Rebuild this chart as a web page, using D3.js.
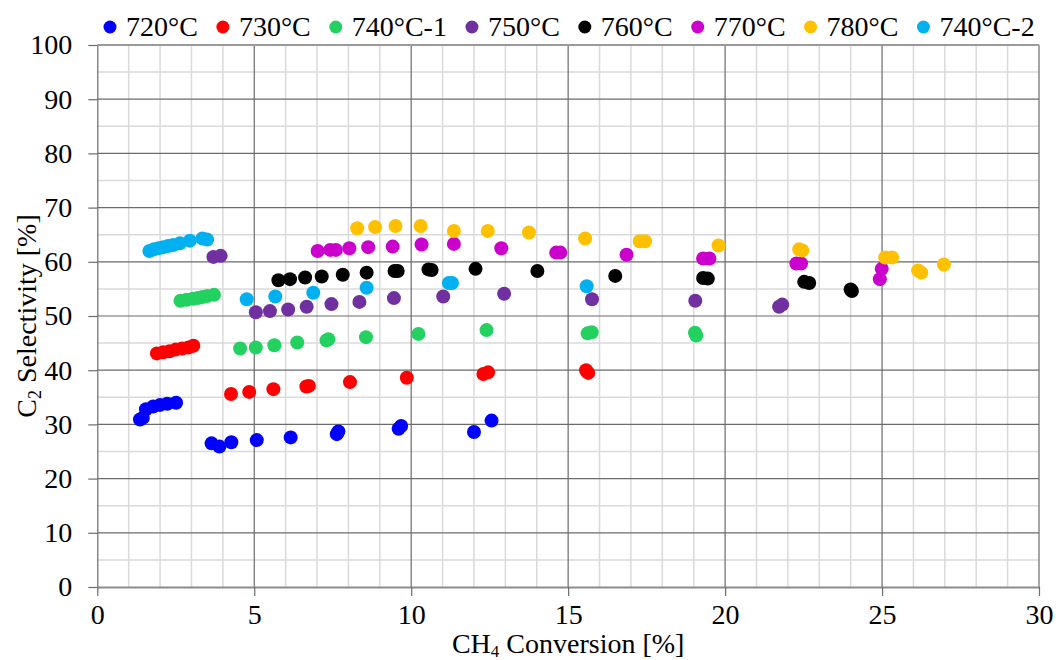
<!DOCTYPE html>
<html>
<head>
<meta charset="utf-8">
<script src="https://cdn.jsdelivr.net/npm/d3@7"></script>
<style>
    body { margin: 0; background: #fff; }
    text { font-family: "Liberation Serif", "Times New Roman", serif; fill: #000; }
</style>
</head>
<body>
<div class="chart"></div>
<script>
// series names + colours, legend order
let seriesNames = ["720°C", "730°C", "740°C-1", "750°C", "760°C", "770°C", "780°C", "740°C-2"]
let seriesColors = ["#0000ff", "#ff0000", "#22d160", "#7030a0", "#000000", "#cc00cc", "#ffc000", "#00b0f0"]

// CH4 conversion (x) and C2 selectivity (y) per series
let x720 = [1.36, 1.45, 1.55, 1.78, 2.0, 2.23, 2.51, 3.64, 3.89, 4.27, 5.08, 6.16, 7.63, 7.68, 9.6, 9.68, 12.0, 12.56]
let y720 = [30.9, 31.2, 32.8, 33.3, 33.6, 33.8, 34.0, 26.5, 25.9, 26.7, 27.1, 27.6, 28.2, 28.7, 29.2, 29.7, 28.6, 30.7]

let x730 = [1.9, 2.1, 2.3, 2.5, 2.7, 2.9, 3.06, 4.26, 4.84, 5.61, 6.66, 6.74, 8.05, 9.86, 12.3, 12.45, 15.57, 15.64]
let y730 = [43.1, 43.3, 43.5, 43.8, 44.0, 44.2, 44.5, 35.6, 36.0, 36.5, 37.0, 37.1, 37.8, 38.6, 39.3, 39.6, 40.0, 39.5]

let x740a = [2.65, 2.85, 3.05, 3.2, 3.35, 3.5, 3.72, 4.55, 5.05, 5.64, 6.37, 7.3, 7.36, 8.56, 10.23, 12.4, 15.62, 15.75, 19.04, 19.08]
let y740a = [52.8, 53.0, 53.2, 53.3, 53.5, 53.7, 53.9, 44.0, 44.2, 44.6, 45.1, 45.5, 45.7, 46.1, 46.7, 47.4, 46.8, 47.0, 46.9, 46.4]

let x750 = [3.7, 3.93, 5.05, 5.5, 6.08, 6.67, 7.46, 8.35, 9.45, 11.02, 12.96, 15.76, 19.05, 21.72, 21.82]
let y750 = [60.9, 61.1, 50.7, 50.9, 51.2, 51.7, 52.2, 52.6, 53.3, 53.6, 54.1, 53.1, 52.8, 51.7, 52.1]

let x760 = [5.77, 6.14, 6.62, 7.15, 7.82, 8.58, 9.47, 9.57, 10.55, 10.65, 12.05, 14.02, 16.5, 19.3, 19.45, 22.52, 22.68, 24.0, 24.04]
let y760 = [56.6, 56.8, 57.1, 57.3, 57.6, 58.0, 58.3, 58.3, 58.6, 58.5, 58.7, 58.3, 57.4, 57.0, 56.9, 56.3, 56.1, 54.9, 54.6]

let x770 = [7.02, 7.42, 7.6, 8.03, 8.63, 9.41, 10.33, 11.36, 12.87, 14.62, 14.75, 16.86, 19.3, 19.5, 22.27, 22.42, 24.99, 24.93]
let y770 = [62.0, 62.2, 62.2, 62.5, 62.7, 62.8, 63.2, 63.3, 62.5, 61.7, 61.7, 61.3, 60.6, 60.6, 59.7, 59.7, 58.7, 56.8]

let x780 = [8.28, 8.85, 9.5, 10.3, 11.36, 12.44, 13.75, 15.54, 17.28, 17.45, 19.79, 22.36, 22.46, 25.1, 25.32, 26.15, 26.25, 26.97]
let y780 = [66.2, 66.4, 66.6, 66.6, 65.7, 65.7, 65.4, 64.3, 63.8, 63.8, 63.0, 62.3, 62.1, 60.8, 60.8, 58.4, 58.0, 59.5]

let x740b = [1.66, 1.8, 1.95, 2.1, 2.25, 2.42, 2.63, 2.95, 3.35, 3.5, 4.76, 5.67, 6.88, 8.58, 11.2, 11.3, 15.59]
let y740b = [62.0, 62.3, 62.5, 62.7, 62.9, 63.1, 63.4, 63.9, 64.3, 64.1, 53.1, 53.6, 54.3, 55.2, 56.1, 56.1, 55.5]

let xTicks = [0, 5, 10, 15, 20, 25, 30]
let yTicks = [0, 10, 20, 30, 40, 50, 60, 70, 80, 90, 100]

let xs = [x720, x730, x740a, x750, x760, x770, x780, x740b]
let ys = [y720, y730, y740a, y750, y760, y770, y780, y740b]

const drawScatter = () => {
    let width = 1059
    let height = 660
    let left = 97.3, right = 1039, top = 45, bottom = 587

    let svg = d3.select(".chart")
        .append("svg")
        .attr("width", width)
        .attr("height", height)

    let x = d3.scaleLinear().domain([0, 30]).range([left, right])
    let y = d3.scaleLinear().domain([0, 100]).range([bottom, top])

    // minor grid
    svg.append("g")
        .selectAll("line")
        .data(d3.range(1, 30).filter(d => d % 5 !== 0))
        .enter()
        .append("line")
        .attr("x1", d => x(d)).attr("x2", d => x(d))
        .attr("y1", top).attr("y2", bottom)
        .attr("stroke", "#dadada")
        .attr("stroke-width", 1.5)
    svg.append("g")
        .selectAll("line")
        .data(d3.range(5, 100, 10))
        .enter()
        .append("line")
        .attr("x1", left).attr("x2", right)
        .attr("y1", d => y(d)).attr("y2", d => y(d))
        .attr("stroke", "#dadada")
        .attr("stroke-width", 1.5)

    // major grid
    svg.append("g")
        .selectAll("line")
        .data(xTicks.slice(1))
        .enter()
        .append("line")
        .attr("x1", d => x(d)).attr("x2", d => x(d))
        .attr("y1", top).attr("y2", bottom)
        .attr("stroke", "#6b6b6b")
        .attr("stroke-width", 1.2)
    svg.append("g")
        .selectAll("line")
        .data(yTicks.slice(1))
        .enter()
        .append("line")
        .attr("x1", left).attr("x2", right)
        .attr("y1", d => y(d)).attr("y2", d => y(d))
        .attr("stroke", d => d === 100 ? "#9a9a9a" : "#6b6b6b")
        .attr("stroke-width", d => d === 100 ? 2 : 1.2)

    // axes
    let xAxis = svg.append("g")
        .attr("transform", "translate(0," + bottom + ")")
        .call(d3.axisBottom(x).tickValues(xTicks).tickSize(9).tickPadding(8).tickSizeOuter(0))
    let yAxis = svg.append("g")
        .attr("transform", "translate(" + left + ",0)")
        .call(d3.axisLeft(y).tickValues(yTicks).tickSize(9).tickPadding(16).tickSizeOuter(0))

    xAxis.select(".domain").attr("stroke", "#8c8c8c").attr("stroke-width", 2)
    yAxis.select(".domain").attr("stroke", "#6b6b6b").attr("stroke-width", 1.2)
    svg.selectAll(".tick line").attr("stroke", "#6b6b6b").attr("stroke-width", 1.2)
    svg.selectAll(".tick text")
        .style("font-family", "'Liberation Serif', serif")
        .style("font-size", "28px")
        .attr("fill", "#000")

    // points
    seriesNames.forEach(function (name, i) {
        let pts = xs[i].map((v, j) => ({x: v, y: ys[i][j]}))
        svg.append("g")
            .selectAll("circle")
            .data(pts)
            .enter()
            .append("circle")
            .attr("cx", d => x(d.x))
            .attr("cy", d => y(d.y))
            .attr("r", 7)
            .attr("fill", seriesColors[i])
    })

    // axis titles
    let xt = svg.append("text")
        .attr("x", (left + right) / 2)
        .attr("y", 653)
        .style("text-anchor", "middle")
        .style("font-size", "28px")
    xt.append("tspan").text("CH")
    xt.append("tspan").text("4").attr("dy", 4).style("font-size", "17px")
    xt.append("tspan").text(" Conversion [%]").attr("dy", -4)

    let yt = svg.append("text")
        .attr("transform", "translate(36," + (top + bottom) / 2 + ") rotate(-90)")
        .style("text-anchor", "middle")
        .style("font-size", "28px")
    yt.append("tspan").text("C")
    yt.append("tspan").text("2").attr("dy", 5).style("font-size", "18px")
    yt.append("tspan").text(" Selectivity [%]").attr("dy", -5)

    // legend along the top
    let lx = 110
    seriesNames.forEach(function (name, i) {
        svg.append("circle")
            .attr("cx", lx)
            .attr("cy", 27)
            .attr("r", 6.5)
            .attr("fill", seriesColors[i])
        let t = svg.append("text")
            .attr("x", lx + 16)
            .attr("y", 36)
            .style("font-size", "28px")
            .text(name)
        lx = lx + 16 + t.node().getComputedTextLength() + 25
    })
}

drawScatter()
</script>
</body>
</html>
